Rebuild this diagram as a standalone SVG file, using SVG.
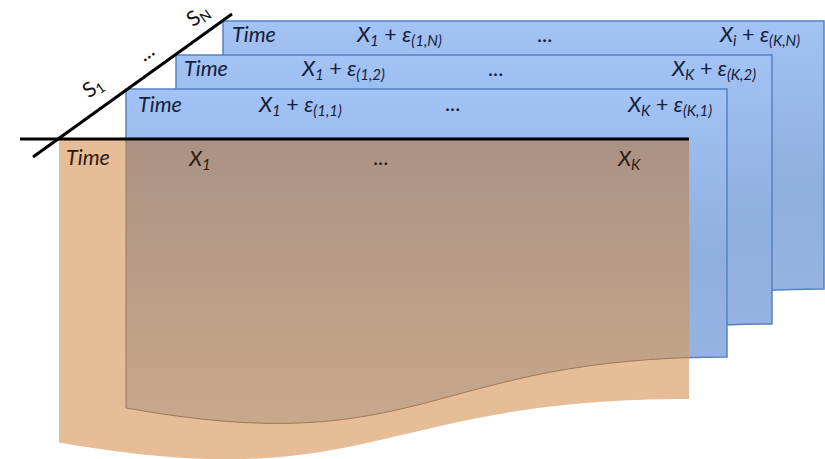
<svg xmlns="http://www.w3.org/2000/svg" width="825" height="459" viewBox="0 0 825 459">
<defs>
<linearGradient id="gBlue" x1="0" y1="0" x2="0" y2="1">
<stop offset="0" stop-color="#a3c2f5"/>
<stop offset="0.5" stop-color="#8fafdf"/>
<stop offset="1" stop-color="#9ab6e2"/>
</linearGradient>
<linearGradient id="gBrown" gradientUnits="userSpaceOnUse" x1="0" y1="139" x2="0" y2="420">
<stop offset="0" stop-color="#ab9284"/>
<stop offset="1" stop-color="#c8a88b"/>
</linearGradient>
<clipPath id="cOrange"><rect x="59" y="139" width="630" height="320"/></clipPath>
<path id="p1" d="M126,89 H727 V357 C426,357 426,462 126,408 Z"/>
</defs>
<style>
.sheet{fill:url(#gBlue);stroke:#5581c4;stroke-width:1.5}
.t{font-family:Lato,"Liberation Sans",sans-serif;font-size:21.5px;font-style:italic;fill:#14203a}
.to{fill:#2a1b15}
.up{font-style:normal}
.sub{font-size:15px}
.ax{stroke:#000;stroke-width:3;fill:none;stroke-linecap:butt}
.lbl{font-family:Lato,"Liberation Sans",sans-serif;font-size:21px;fill:#111}
</style>
<rect width="825" height="459" fill="#fff"/>

<g id="sheet-N">
<path class="sheet" d="M223,21 H824 V289 C523,289 523,392 223,334 Z"/>
<text class="t" x="232" y="42">Time</text>
<text class="t" x="357" y="42">X<tspan class="sub" dy="4">1</tspan><tspan class="up" dy="-4"> + </tspan>ε<tspan class="sub" dy="4">(1,N)</tspan></text>
<text class="t up" x="537" y="42">...</text>
<text class="t" x="720" y="42">X<tspan class="sub" dy="4">i</tspan><tspan class="up" dy="-4"> + </tspan>ε<tspan class="sub" dy="4">(K,N)</tspan></text>
</g>

<g id="sheet-2">
<path class="sheet" d="M176,55 H772 V324 C474,324 474,426 176,368 Z"/>
<text class="t" x="184" y="76">Time</text>
<text class="t" x="302" y="76">X<tspan class="sub" dy="4">1</tspan><tspan class="up" dy="-4"> + </tspan>ε<tspan class="sub" dy="4">(1,2)</tspan></text>
<text class="t up" x="488" y="76">...</text>
<text class="t" x="672" y="76">X<tspan class="sub" dy="4">K</tspan><tspan class="up" dy="-4"> + </tspan>ε<tspan class="sub" dy="4">(K,2)</tspan></text>
</g>

<g id="sheet-1">
<use href="#p1" class="sheet"/>
<text class="t" x="138" y="112">Time</text>
<text class="t" x="259" y="112">X<tspan class="sub" dy="4">1</tspan><tspan class="up" dy="-4"> + </tspan>ε<tspan class="sub" dy="4">(1,1)</tspan></text>
<text class="t up" x="445" y="111">...</text>
<text class="t" x="628" y="112">X<tspan class="sub" dy="4">K</tspan><tspan class="up" dy="-4"> + </tspan>ε<tspan class="sub" dy="4">(K,1)</tspan></text>
</g>

<g id="sheet-0">
<path d="M59,139 H689 V399 C374,399 374,497.6 59,442.5 Z" fill="#e7bd98"/>
<use href="#p1" clip-path="url(#cOrange)" fill="url(#gBrown)" stroke="#a07458" stroke-width="1"/>
<text class="t to" x="66" y="165">Time</text>
<text class="t to" x="189" y="166">X<tspan class="sub" dy="4">1</tspan></text>
<text class="t to up" x="373" y="165">...</text>
<text class="t to" x="618" y="166">X<tspan class="sub" dy="4">K</tspan></text>
</g>

<g id="axes">
<line class="ax" x1="20" y1="139" x2="689" y2="139"/>
<line class="ax" x1="33" y1="157" x2="232" y2="14"/>
<text class="lbl" transform="translate(97,93) rotate(-35.7)" text-anchor="middle">S<tspan font-size="14" dy="3">1</tspan></text>
<text class="lbl" transform="translate(150,58) rotate(-35.7)" text-anchor="middle">...</text>
<text class="lbl" transform="translate(202,21) rotate(-35.7)" text-anchor="middle">S<tspan font-size="14" dy="3">N</tspan></text>
</g>
</svg>
